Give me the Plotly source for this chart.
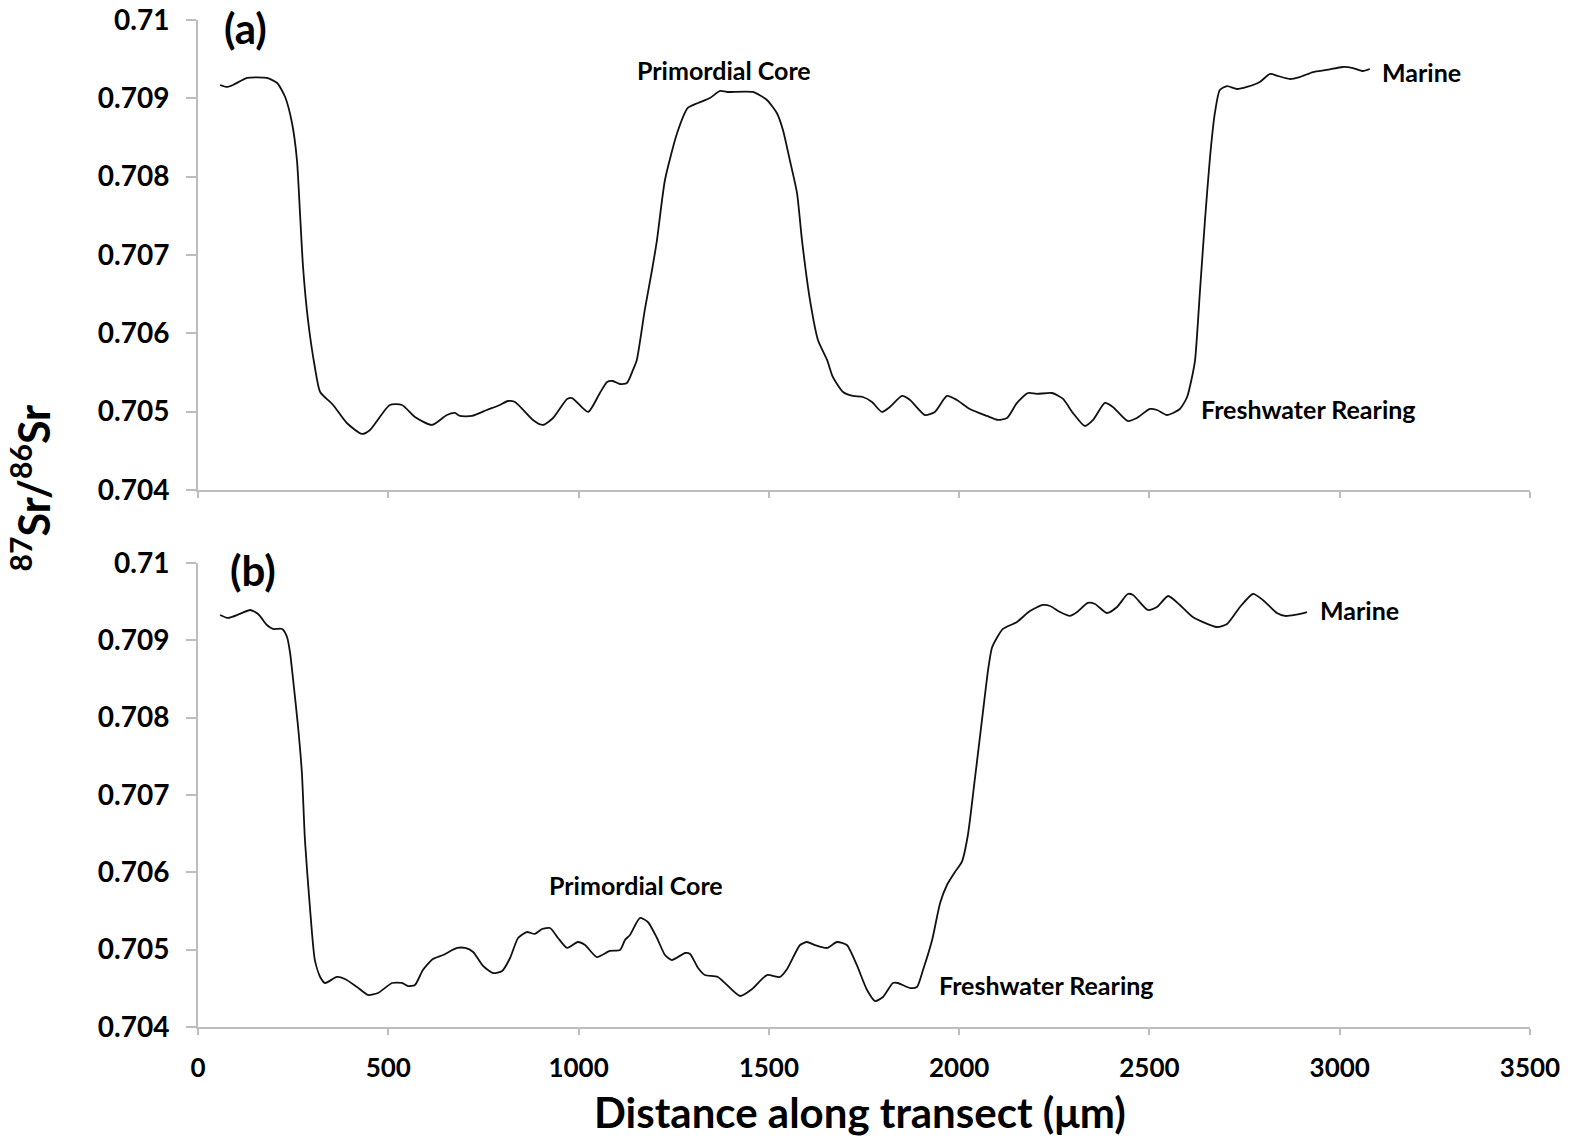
import plotly.graph_objects as go

# ---------------- data ----------------
# Panel (a): distance (um) and 87Sr/86Sr
dist_a = [58, 76, 92, 129, 181, 208, 229, 247, 260, 268, 276, 289, 307, 321, 355, 391, 431, 452,
          504, 536, 570, 615, 654, 675, 688, 720, 759, 793, 814, 833, 880, 906, 933, 970, 983,
          1025, 1056, 1075, 1090, 1109, 1127, 1143, 1153, 1174, 1193, 1206, 1227, 1259, 1287,
          1314, 1345, 1372, 1390, 1458, 1495, 1521, 1537, 1555, 1574, 1587, 1608, 1629, 1653,
          1668, 1695, 1721, 1747, 1771, 1797, 1818, 1850, 1871, 1910, 1936, 1968, 1994, 2028,
          2073, 2102, 2126, 2152, 2181, 2204, 2244, 2273, 2299, 2330, 2352, 2383, 2404, 2443,
          2467, 2501, 2520, 2546, 2580, 2599, 2612, 2620, 2633, 2646, 2659, 2672, 2685, 2704,
          2730, 2756, 2790, 2817, 2838, 2869, 2895, 2930, 2966, 3008, 3035, 3061, 3079]
sr_a = [0.709170, 0.709145, 0.709170, 0.709260, 0.709260, 0.709196, 0.709017, 0.708685, 0.708213,
        0.707536, 0.706847, 0.706170, 0.705570, 0.705251, 0.705085, 0.704855, 0.704715, 0.704766,
        0.705085, 0.705085, 0.704932, 0.704830, 0.704957, 0.704983, 0.704945, 0.704945, 0.705021,
        0.705085, 0.705136, 0.705123, 0.704894, 0.704830, 0.704919, 0.705162, 0.705174, 0.704996,
        0.705238, 0.705379, 0.705391, 0.705353, 0.705366, 0.705532, 0.705660, 0.706298, 0.706808,
        0.707191, 0.707957, 0.708557, 0.708877, 0.708940, 0.709004, 0.709094, 0.709081, 0.709081,
        0.708979, 0.708813, 0.708596, 0.708213, 0.707791, 0.707191, 0.706426, 0.705915, 0.705660,
        0.705443, 0.705251, 0.705200, 0.705187, 0.705123, 0.704996, 0.705060, 0.705200, 0.705149,
        0.704957, 0.704996, 0.705200, 0.705149, 0.705034, 0.704945, 0.704894, 0.704919, 0.705111,
        0.705238, 0.705226, 0.705238, 0.705162, 0.704983, 0.704817, 0.704894, 0.705111, 0.705060,
        0.704881, 0.704919, 0.705034, 0.705021, 0.704957, 0.705034, 0.705187, 0.705443, 0.705660,
        0.706553, 0.707447, 0.708238, 0.708813, 0.709106, 0.709157, 0.709119, 0.709145, 0.709209,
        0.709311, 0.709285, 0.709247, 0.709272, 0.709336, 0.709362, 0.709400, 0.709387, 0.709349,
        0.709374]

# Panel (b)
dist_b = [58, 79, 110, 137, 158, 181, 197, 221, 234, 242, 250, 263, 273, 281, 294, 307, 321, 334,
          365, 386, 418, 447, 473, 510, 536, 552, 570, 591, 617, 644, 681, 702, 723, 749, 775,
          799, 820, 841, 864, 885, 904, 925, 946, 970, 998, 1017, 1048, 1082, 1109, 1122, 1135,
          1161, 1182, 1206, 1227, 1245, 1280, 1293, 1314, 1332, 1366, 1424, 1456, 1495, 1529,
          1548, 1582, 1600, 1621, 1653, 1679, 1705, 1731, 1758, 1779, 1800, 1826, 1839, 1871,
          1889, 1905, 1929, 1950, 1968, 1989, 2007, 2023, 2041, 2060, 2076, 2086, 2099, 2115,
          2152, 2186, 2220, 2239, 2265, 2291, 2310, 2338, 2357, 2388, 2415, 2443, 2457, 2496,
          2520, 2549, 2580, 2614, 2677, 2704, 2738, 2772, 2798, 2835, 2856, 2882, 2914]
sr_b = [0.709328, 0.709289, 0.709341, 0.709392, 0.709341, 0.709198, 0.709147, 0.709147, 0.709043,
        0.708836, 0.708487, 0.707879, 0.707284, 0.706418, 0.705552, 0.704866, 0.704647, 0.704569,
        0.704647, 0.704621, 0.704517, 0.704414, 0.704440, 0.704569, 0.704569, 0.704530, 0.704543,
        0.704737, 0.704879, 0.704931, 0.705022, 0.705022, 0.704970, 0.704789, 0.704698, 0.704724,
        0.704892, 0.705151, 0.705228, 0.705203, 0.705267, 0.705280, 0.705151, 0.705022, 0.705099,
        0.705060, 0.704905, 0.704983, 0.704996, 0.705125, 0.705190, 0.705409, 0.705358, 0.705151,
        0.704931, 0.704866, 0.704957, 0.704944, 0.704763, 0.704672, 0.704647, 0.704401, 0.704491,
        0.704672, 0.704647, 0.704750, 0.705060, 0.705099, 0.705060, 0.705022, 0.705099, 0.705060,
        0.704802, 0.704478, 0.704336, 0.704388, 0.704569, 0.704569, 0.704504, 0.704517, 0.704737,
        0.705125, 0.705603, 0.705836, 0.706004, 0.706134, 0.706483, 0.707194, 0.707970, 0.708616,
        0.708901, 0.709030, 0.709147, 0.709237, 0.709379, 0.709457, 0.709444, 0.709366, 0.709315,
        0.709366, 0.709483, 0.709470, 0.709353, 0.709431, 0.709599, 0.709586, 0.709392, 0.709431,
        0.709573, 0.709457, 0.709302, 0.709172, 0.709211, 0.709431, 0.709599, 0.709522, 0.709353,
        0.709315, 0.709328, 0.709366]

y_ticks = [0.704, 0.705, 0.706, 0.707, 0.708, 0.709, 0.71]
y_ticktext = ["0.704", "0.705", "0.706", "0.707", "0.708", "0.709", "0.71"]
x_ticks = [0, 500, 1000, 1500, 2000, 2500, 3000, 3500]

# annotations: (text, x, y, xanchor, panel, size)
labels = [
    ("(a)", 63, 0.70990, "left", 1, 42),
    ("Primordial Core", 1382, 0.709362, "center", 1, 25),
    ("Marine", 3106, 0.709336, "left", 1, 25),
    ("Freshwater Rearing", 2630, 0.70503, "left", 1, 25),
    ("(b)", 79, 0.70991, "left", 2, 42),
    ("Primordial Core", 1151, 0.70584, "center", 2, 25),
    ("Marine", 2943, 0.709392, "left", 2, 25),
    ("Freshwater Rearing", 1942, 0.704543, "left", 2, 25),
]

FONT = "Lato"
AXIS_COLOR = "#bdbdbd"

fig = go.Figure()
fig.add_trace(go.Scatter(x=dist_a, y=sr_a, mode="lines",
                         line=dict(color="#111111", width=1.8, shape="spline", smoothing=0.6),
                         xaxis="x", yaxis="y", showlegend=False))
fig.add_trace(go.Scatter(x=dist_b, y=sr_b, mode="lines",
                         line=dict(color="#111111", width=1.8, shape="spline", smoothing=0.6),
                         xaxis="x2", yaxis="y2", showlegend=False))

axis_common = dict(showgrid=False, zeroline=False, showline=True, linecolor=AXIS_COLOR,
                   linewidth=2, ticks="outside", tickcolor=AXIS_COLOR, tickwidth=2,
                   automargin=False, ticklabeloverflow="allow")
ytickfont = dict(family=FONT, size=28, color="black", weight="bold")
xtickfont = dict(family=FONT, size=26, color="black", weight="bold")

fig.update_layout(
    width=1570, height=1139,
    margin=dict(l=198, r=40, t=20, b=112),
    plot_bgcolor="white", paper_bgcolor="white",
    font=dict(family=FONT, color="black"),
    xaxis=dict(domain=[0, 1], anchor="y", range=[0, 3500], tickvals=x_ticks,
               showticklabels=False, ticklen=6, **axis_common),
    yaxis=dict(domain=[0.5333, 1], anchor="x", range=[0.704, 0.71], tickvals=y_ticks,
               ticktext=y_ticktext, ticklen=10, tickfont=ytickfont, ticklabelstandoff=11,
               **axis_common),
    xaxis2=dict(domain=[0, 1], anchor="y2", range=[0, 3500], tickvals=x_ticks,
                ticklen=6, tickfont=xtickfont, ticklabelstandoff=11, **axis_common),
    yaxis2=dict(domain=[0, 0.4608], anchor="x2", range=[0.704, 0.71], tickvals=y_ticks,
                ticktext=y_ticktext, ticklen=10, tickfont=ytickfont, ticklabelstandoff=11,
                **axis_common),
)

for text, x, y, xa, panel, size in labels:
    fig.add_annotation(text=text, x=x, y=y, xref="x" if panel == 1 else "x2",
                       yref="y" if panel == 1 else "y2", xanchor=xa, yanchor="middle",
                       showarrow=False,
                       font=dict(family=FONT, size=size, color="black", weight="bold"))

fig.add_annotation(text="Distance along transect (μm)", xref="paper", yref="paper",
                   x=0.497, y=-0.0844, showarrow=False, xanchor="center", yanchor="middle",
                   font=dict(family=FONT, size=42, color="black", weight="bold"))

fig.add_annotation(text="<sup>87</sup>Sr/<sup>86</sup>Sr", xref="paper", yref="paper",
                   x=-0.126, y=0.535, textangle=-90, showarrow=False,
                   xanchor="center", yanchor="middle",
                   font=dict(family=FONT, size=43, color="black", weight="bold"))

# remove the default 8px page margin so the 1570x1139 figure fills the window exactly
fig.write_html("out.html", config={"displayModeBar": False},
               post_script="document.body.style.margin='0px';document.body.style.overflow='hidden';")
